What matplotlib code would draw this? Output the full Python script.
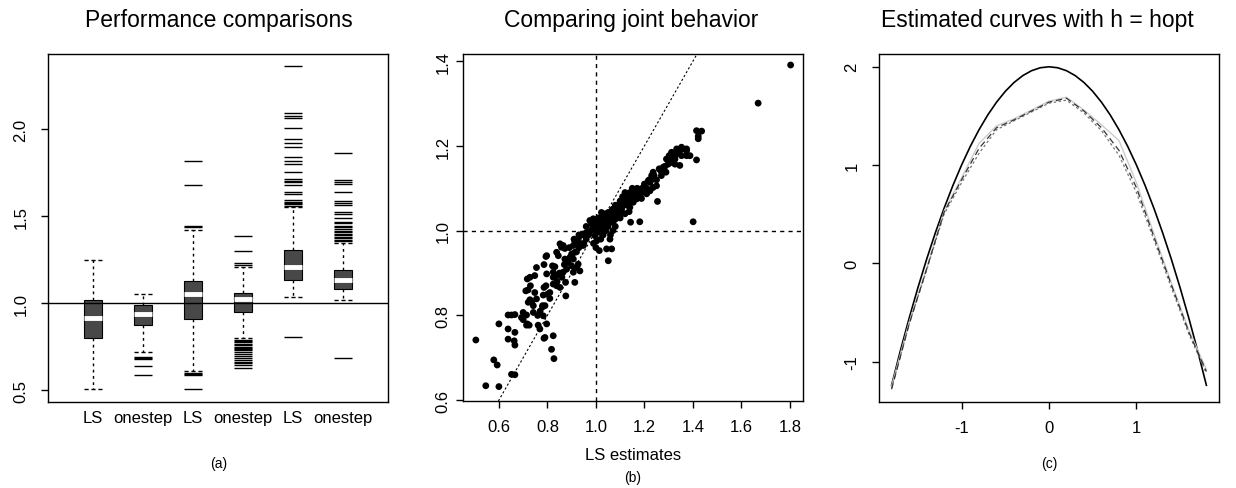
import numpy as np
import matplotlib
matplotlib.use('Agg')
import matplotlib.pyplot as plt

plt.rcParams['font.family'] = ['Liberation Sans', 'DejaVu Sans']
plt.rcParams['axes.unicode_minus'] = False

# (a) box summaries
box_labels = ['LS', 'onestep', 'LS', 'onestep', 'LS', 'onestep']
whis_lo = [0.508, 0.718, 0.610, 0.800, 1.038, 1.019]
q1 = [0.803, 0.877, 0.910, 0.948, 1.136, 1.082]
med = [0.914, 0.939, 1.054, 1.025, 1.211, 1.132]
q3 = [1.019, 0.992, 1.126, 1.057, 1.308, 1.190]
whis_hi = [1.251, 1.054, 1.423, 1.207, 1.552, 1.347]
outliers = [
    [],
    [0.690, 0.684, 0.678, 0.641, 0.588],
    [1.437, 1.445, 1.682, 1.816, 0.598, 0.592, 0.586, 0.507],
    [1.232, 1.222, 1.299, 1.387, 0.790, 0.782, 0.776, 0.765, 0.760, 0.750,
     0.741, 0.735, 0.732, 0.720, 0.710, 0.695, 0.684, 0.675, 0.661, 0.655,
     0.645, 0.628],
    [2.362, 2.094, 2.078, 2.065, 2.006, 1.944, 1.919, 1.897, 1.839, 1.820,
     1.799, 1.753, 1.714, 1.705, 1.695, 1.682, 1.638, 1.628, 1.595, 1.584,
     1.575, 1.569, 1.562, 0.808],
    [1.862, 1.711, 1.699, 1.686, 1.638, 1.590, 1.576, 1.567, 1.523, 1.513,
     1.489, 1.469, 1.461, 1.446, 1.437, 1.425, 1.415, 1.408, 1.398, 1.390,
     1.383, 1.374, 1.365, 1.358, 0.684],
]

# (b) LS estimates vs onestep estimates
ls_est = [0.505, 0.546, 0.579, 0.593, 0.600, 0.600, 0.638, 0.652, 0.666, 0.638,
          0.638, 0.663, 0.666, 0.666, 0.652, 0.666, 0.693, 0.700, 0.714, 0.717,
          0.725, 0.714, 0.711, 0.717, 0.728, 0.755, 0.748, 0.742, 0.742, 0.748,
          0.721, 0.728, 0.735, 0.755, 0.762, 0.769, 0.780, 0.783, 0.786, 0.794,
          0.790, 0.783, 0.797, 0.786, 0.797, 0.794, 0.786, 0.797, 0.810, 0.824,
          0.827, 0.817, 0.790,
          0.821, 0.824, 0.831, 0.838, 0.824, 0.852, 0.858, 0.865, 0.872, 0.838,
          0.845, 0.872, 0.824, 0.838, 0.852, 0.865, 0.875, 0.876, 0.879, 0.886,
          0.893, 0.900, 0.907, 0.913, 0.907, 0.913, 0.920, 0.927, 0.934, 0.948,
          0.962, 0.941, 0.948, 0.920, 0.934, 0.900, 0.907, 0.927, 0.913,
          0.975, 0.982, 0.989, 0.996, 1.003, 1.010, 1.016, 1.023, 1.030, 0.986,
          0.996, 1.003, 1.016, 1.030, 1.037, 1.023, 1.044, 1.051, 1.058, 1.065,
          1.071, 1.078, 1.085, 1.092, 1.099, 1.106, 1.113, 1.120, 1.106, 1.099,
          1.092, 1.082, 1.071, 1.058, 1.044, 1.065, 1.051, 1.014, 1.137, 1.143,
          1.181, 1.140, 1.154, 1.168, 1.181, 1.195, 1.161, 1.175, 1.188, 1.209,
          1.223, 1.236, 1.223, 1.236, 1.250, 1.230, 1.216, 1.254,
          1.261, 1.264, 1.278, 1.236, 1.271, 1.289, 1.285, 1.298, 1.305, 1.312,
          1.319, 1.326, 1.333, 1.312, 1.291, 1.302, 1.346, 1.360, 1.353, 1.374,
          1.326, 1.346, 1.374, 1.388, 1.353, 1.374, 1.333, 1.415, 1.415, 1.422,
          1.422, 1.436, 1.669, 1.803, 1.401,
          0.98, 0.99, 1.00, 1.00, 1.01, 1.01, 1.02, 1.02, 1.03, 1.03,
          1.04, 1.04, 1.05, 1.05, 1.06, 1.06, 1.07, 1.07, 1.08, 1.08,
          1.09, 1.09, 1.10, 1.10, 1.11, 1.11, 1.12, 1.12, 1.13, 1.13,
          1.14, 1.14, 1.15, 1.15, 1.16, 1.17, 1.17, 1.18, 1.19, 1.20,
          1.21, 1.22, 1.24, 1.25, 1.27,
          0.97, 0.96, 0.99, 1.00, 1.02, 1.03, 1.04, 1.06, 1.07, 1.08,
          1.10, 1.12, 0.95, 0.93, 0.92, 0.90, 0.88, 0.87, 0.89, 0.91,
          0.93, 0.95, 0.96, 0.85, 0.86, 0.84, 0.80, 0.81, 0.78, 0.77,
          0.76, 0.70, 0.72, 0.73]
onestep_est = [0.742, 0.634, 0.695, 0.683, 0.632, 0.780, 0.801, 0.801, 0.802, 0.768,
               0.744, 0.740, 0.730, 0.760, 0.661, 0.660, 0.795, 0.807, 0.801, 0.780,
               0.777, 0.777, 0.858, 0.886, 0.890, 0.913, 0.894, 0.823, 0.807, 0.854,
               0.831, 0.837, 0.831, 0.839, 0.777, 0.768, 0.823, 0.848, 0.866, 0.870,
               0.823, 0.799, 0.780, 0.746, 0.941, 0.939, 0.920, 0.898, 0.854, 0.752,
               0.698, 0.720, 0.748,
               0.917, 0.902, 0.915, 0.894, 0.890, 0.969, 0.961, 0.965, 0.958, 0.949,
               0.941, 0.933, 0.874, 0.870, 0.866, 0.902, 0.878, 0.846, 0.909, 0.925,
               0.937, 0.945, 0.933, 0.949, 0.965, 0.975, 0.971, 0.980, 0.988, 0.992,
               0.996, 0.969, 0.965, 0.913, 0.905, 0.917, 0.902, 0.921, 0.878,
               1.024, 1.016, 1.028, 1.012, 1.021, 1.016, 1.024, 1.031, 1.035, 1.004,
               0.988, 0.976, 0.996, 1.012, 1.000, 1.043, 1.035, 1.043, 1.039, 1.047,
               1.051, 1.043, 1.055, 1.059, 1.063, 1.067, 1.071, 1.061, 1.051, 1.043,
               1.035, 1.028, 1.020, 0.980, 0.957, 0.957, 0.929, 0.953, 1.045, 1.020,
               1.021, 1.055, 1.067, 1.075, 1.083, 1.091, 1.079, 1.087, 1.076, 1.087,
               1.094, 1.102, 1.114, 1.122, 1.106, 1.130, 1.118, 1.069,
               1.146, 1.144, 1.150, 1.138, 1.138, 1.138, 1.152, 1.157, 1.165, 1.161,
               1.173, 1.169, 1.181, 1.185, 1.169, 1.177, 1.189, 1.193, 1.177, 1.189,
               1.157, 1.154, 1.177, 1.177, 1.197, 1.193, 1.193, 1.167, 1.236, 1.217,
               1.223, 1.235, 1.301, 1.391, 1.021,
               1.00, 1.01, 1.02, 1.00, 1.01, 1.03, 1.00, 1.02, 1.01, 1.03,
               1.02, 1.04, 1.01, 1.03, 1.02, 1.04, 1.03, 1.05, 1.04, 1.06,
               1.04, 1.06, 1.05, 1.07, 1.06, 1.08, 1.07, 1.09, 1.06, 1.08,
               1.07, 1.09, 1.08, 1.10, 1.09, 1.08, 1.10, 1.09, 1.10, 1.11,
               1.10, 1.12, 1.13, 1.12, 1.13,
               0.99, 0.98, 0.97, 0.96, 0.98, 0.99, 1.00, 0.99, 1.00, 1.01,
               1.03, 1.04, 0.97, 0.96, 0.95, 0.94, 0.93, 0.92, 0.96, 0.98,
               0.99, 0.99, 1.01, 0.90, 0.89, 0.88, 0.85, 0.84, 0.82, 0.81,
               0.80, 0.79, 0.86, 0.87]

# (c) true curve (fine grid) and three estimates (coarser grid)
true_x = [-1.8, -1.7, -1.6, -1.5, -1.4, -1.3, -1.2, -1.1, -1.0, -0.9,
          -0.8, -0.7, -0.6, -0.5, -0.4, -0.3, -0.2, -0.1, 0.0, 0.1,
          0.2, 0.3, 0.4, 0.5, 0.6, 0.7, 0.8, 0.9, 1.0, 1.1,
          1.2, 1.3, 1.4, 1.5, 1.6, 1.7, 1.8]
true_curve = [-1.24, -0.89, -0.56, -0.25, 0.04, 0.31, 0.56, 0.79, 1.00, 1.19,
              1.36, 1.51, 1.64, 1.75, 1.84, 1.91, 1.96, 1.99, 2.00, 1.99,
              1.96, 1.91, 1.84, 1.75, 1.64, 1.51, 1.36, 1.19, 1.00, 0.79,
              0.56, 0.31, 0.04, -0.25, -0.56, -0.89, -1.24]
grid_x = [-1.8, -1.6, -1.4, -1.2, -1.0, -0.8, -0.6, -0.4, -0.2, 0.0,
          0.2, 0.4, 0.6, 0.8, 1.0, 1.2, 1.4, 1.6, 1.8]
est_dashed = [-1.28, -0.62, -0.06, 0.52, 0.85, 1.17, 1.38, 1.46, 1.55, 1.64,
              1.68, 1.55, 1.38, 1.15, 0.77, 0.27, -0.22, -0.70, -1.10]
est_dotted = [-1.27, -0.62, -0.07, 0.50, 0.82, 1.12, 1.36, 1.45, 1.54, 1.63,
              1.66, 1.53, 1.35, 1.10, 0.72, 0.24, -0.25, -0.72, -1.12]
est_gray = [-1.25, -0.60, -0.05, 0.53, 0.87, 1.22, 1.40, 1.47, 1.56, 1.65,
            1.69, 1.56, 1.41, 1.25, 0.82, 0.30, -0.20, -0.68, -1.08]

fig = plt.figure(figsize=(12.36, 4.89), dpi=100)
W, H = 1236.0, 489.0
ax_a = fig.add_axes([48 / W, 1 - 403 / H, 340 / W, 348 / H])
ax_b = fig.add_axes([463 / W, 1 - 402 / H, 340 / W, 347 / H])
ax_c = fig.add_axes([879 / W, 1 - 403 / H, 340 / W, 348 / H])

for ax in (ax_a, ax_b, ax_c):
    for s in ax.spines.values():
        s.set_linewidth(1.0)
    ax.tick_params(direction='out', length=5, width=1, labelsize=12, color='black')

# ---- (a)
stats = []
for i in range(len(box_labels)):
    stats.append(dict(whislo=whis_lo[i], q1=q1[i], med=med[i], q3=q3[i],
                      whishi=whis_hi[i], fliers=outliers[i], label=box_labels[i]))
ax_a.bxp(stats, positions=range(1, 7), widths=0.35, capwidths=0.35,
         patch_artist=True,
         boxprops=dict(facecolor='#484848', edgecolor='black', linewidth=0.8),
         medianprops=dict(color='white', linewidth=3.5, solid_capstyle='butt'),
         whiskerprops=dict(color='black', linewidth=1, linestyle=(0, (2, 2.5))),
         capprops=dict(color='black', linewidth=1, linestyle=(0, (3, 2))),
         flierprops=dict(marker='_', markersize=12.5, markeredgecolor='black',
                         markeredgewidth=1))
ax_a.axhline(1.0, color='black', linewidth=1)
ax_a.set_xlim(0.1, 6.9)
ax_a.set_ylim(0.433, 2.433)
ax_a.set_yticks([0.5, 1.0, 1.5, 2.0])
ax_a.tick_params(axis='x', length=0, pad=6)
ax_a.tick_params(axis='y', labelrotation=90, pad=9)

# ---- (b)
ax_b.scatter(ls_est, onestep_est, s=24, c='black', edgecolors='none', zorder=3)
ax_b.axhline(1.0, color='black', linewidth=1, linestyle=(0, (3, 3)))
ax_b.axvline(1.0, color='black', linewidth=1, linestyle=(0, (3, 3)))
ax_b.axline((1.0, 1.0), slope=1, color='black', linewidth=0.8, linestyle=(0, (2, 2)))
ax_b.set_xlim(0.452, 1.854)
ax_b.set_ylim(0.598, 1.417)
ax_b.set_xticks([0.6, 0.8, 1.0, 1.2, 1.4, 1.6, 1.8])
ax_b.set_yticks([0.6, 0.8, 1.0, 1.2, 1.4])
ax_b.tick_params(axis='x', pad=8)
ax_b.tick_params(axis='y', labelrotation=90, pad=4)

# ---- (c)
ax_c.plot(true_x, true_curve, color='black', linewidth=1.2)
ax_c.plot(grid_x, est_gray, color='#cccccc', linewidth=1.0)
ax_c.plot(grid_x, est_dotted, color='#777777', linewidth=0.9, linestyle=(0, (2, 2)))
ax_c.plot(grid_x, est_dashed, color='#333333', linewidth=0.9, linestyle=(0, (5, 3)))
ax_c.set_xlim(-1.944, 1.944)
ax_c.set_ylim(-1.41, 2.13)
ax_c.set_xticks([-1, 0, 1])
ax_c.set_yticks([-1, 0, 1, 2])
ax_c.tick_params(axis='x', pad=8)
ax_c.tick_params(axis='y', labelrotation=90, pad=9)

for ax in (ax_a, ax_b, ax_c):
    for lab in ax.get_yticklabels():
        lab.set_va('center')

# titles and captions
fig.text(219 / W, 1 - 20 / H, 'Performance comparisons', ha='center', va='center', fontsize=16.5)
fig.text(631 / W, 1 - 20 / H, 'Comparing joint behavior', ha='center', va='center', fontsize=16.5)
fig.text(1037 / W, 1 - 20 / H, 'Estimated curves with h = hopt', ha='center', va='center', fontsize=16.5)
fig.text(219 / W, 1 - 464 / H, '(a)', ha='center', va='center', fontsize=10)
fig.text(633 / W, 1 - 456 / H, 'LS estimates', ha='center', va='center', fontsize=12)
fig.text(633 / W, 1 - 478 / H, '(b)', ha='center', va='center', fontsize=10)
fig.text(1049 / W, 1 - 464 / H, '(c)', ha='center', va='center', fontsize=10)

fig.savefig('out.png', dpi=100)
